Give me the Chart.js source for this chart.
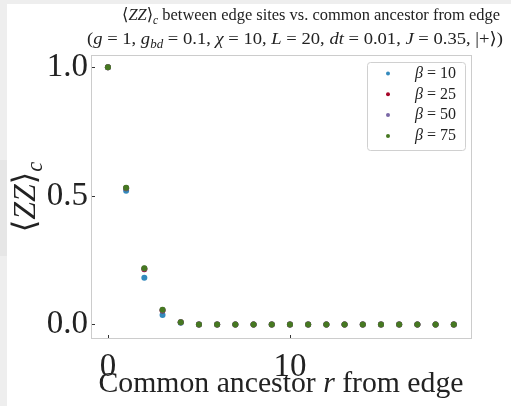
<html>
<head>
  <style>
    body { margin: 0; background: #eeeeee; }
    #side { position: absolute; left: 0; top: 160px; width: 7px; height: 96px; background: #e6e6e6; }
    #wrap { position: absolute; left: 0; top: 0; width: 511px; height: 406px; }
  </style>
</head>
<body>
  <div id="side"></div>
  <div id="wrap"><canvas id="zzChart" width="511" height="406"></canvas></div>

  <script src="https://cdn.jsdelivr.net/npm/chart.js"></script>
  <script>
    // common ancestor r from edge
    const rValues = [0, 1, 2, 3, 4, 5, 6, 7, 8, 9, 10, 11, 12, 13, 14, 15, 16, 17, 18, 19];
    const zzBeta10 = [1.0, 0.520, 0.181, 0.036, 0.006, 0, 0, 0, 0, 0, 0, 0, 0, 0, 0, 0, 0, 0, 0, 0];
    const zzBeta25 = [1.0, 0.530, 0.214, 0.054, 0.008, 0, 0, 0, 0, 0, 0, 0, 0, 0, 0, 0, 0, 0, 0, 0];
    const zzBeta50 = [1.0, 0.531, 0.217, 0.056, 0.008, 0, 0, 0, 0, 0, 0, 0, 0, 0, 0, 0, 0, 0, 0, 0];
    const zzBeta75 = [1.0, 0.532, 0.218, 0.057, 0.008, 0, 0, 0, 0, 0, 0, 0, 0, 0, 0, 0, 0, 0, 0, 0];
    const betaLabels = ['10', '25', '50', '75'];
    const colors = ['#348ABD', '#A60628', '#7A68A6', '#467821'];
    const xTicks = [0, 10];
    const yTicks = [0, 0.5, 1.0];

    const SERIF = "'Liberation Serif', 'DejaVu Serif', serif";

    // draw text made of pieces (italic / subscript); optional target width stretches it
    function drawRich(ctx, segs, x, y, size, align, width) {
      const font = (s, it) => (it ? 'italic ' : '') + s + 'px ' + SERIF;
      let total = 0;
      segs.forEach(s => {
        ctx.font = font(s.sub ? size * 0.7 : size, s.it);
        s.w = ctx.measureText(s.t).width;
        total += s.w;
      });
      const k = width ? width / total : 1;
      let cx = align === 'center' ? x - total * k / 2 : x;
      ctx.textBaseline = 'middle';
      ctx.textAlign = 'left';
      segs.forEach(s => {
        ctx.font = font(s.sub ? size * 0.7 : size, s.it);
        ctx.save();
        ctx.translate(cx, s.sub ? y + size * 0.3 : y);
        ctx.scale(k, 1);
        ctx.fillText(s.t, 0, 0);
        ctx.restore();
        cx += s.w * k;
      });
    }

    const pairs = (ys) => rValues.map((r, i) => ({ x: r, y: ys[i] }));

    const decor = {
      id: 'decor',
      beforeDraw(chart) {
        const ctx = chart.ctx;
        ctx.save();
        ctx.fillStyle = '#ffffff';
        ctx.fillRect(7, 4, 504, 402);
        ctx.restore();
      },
      afterDatasetsDraw(chart) {
        const ctx = chart.ctx;
        const a = chart.chartArea;
        const xs = chart.scales.x, ys = chart.scales.y;
        ctx.save();
        // frame
        ctx.strokeStyle = '#cccccc';
        ctx.lineWidth = 1;
        ctx.strokeRect(a.left + 0.5, a.top + 0.5, a.right - a.left - 1, a.bottom - a.top);
        // small inner ticks
        ctx.strokeStyle = '#333333';
        xTicks.forEach(v => {
          const px = Math.round(xs.getPixelForValue(v)) + 0.5;
          ctx.beginPath(); ctx.moveTo(px, a.bottom); ctx.lineTo(px, a.bottom - 3); ctx.stroke();
        });
        yTicks.forEach(v => {
          const py = Math.round(ys.getPixelForValue(v)) + 0.5;
          ctx.beginPath(); ctx.moveTo(a.left + 1, py); ctx.lineTo(a.left + 4, py); ctx.stroke();
        });

        ctx.fillStyle = '#222222';
        // title
        drawRich(ctx, [
          { t: '⟨' }, { t: 'ZZ', it: true }, { t: '⟩' }, { t: 'c', it: true, sub: true },
          { t: ' between edge sites vs. common ancestor from edge' }
        ], 311, 16, 17, 'center', 378);
        drawRich(ctx, [
          { t: '(' }, { t: 'g', it: true }, { t: ' = 1, ' }, { t: 'g', it: true }, { t: 'bd', it: true, sub: true },
          { t: ' = 0.1, ' }, { t: 'χ', it: true }, { t: ' = 10, ' }, { t: 'L', it: true }, { t: ' = 20, ' },
          { t: 'dt', it: true }, { t: ' = 0.01, ' }, { t: 'J', it: true }, { t: ' = 0.35, |+⟩)' }
        ], 295, 40, 17, 'center', 416);

        // x title
        drawRich(ctx, [
          { t: 'Common ancestor ' }, { t: 'r', it: true }, { t: ' from edge' }
        ], 281, 384, 30, 'center', 365);

        // y title, rotated
        ctx.save();
        ctx.translate(27, 197);
        ctx.rotate(-Math.PI / 2);
        drawRich(ctx, [
          { t: '⟨' }, { t: 'ZZ', it: true }, { t: '⟩' }, { t: 'c', it: true, sub: true }
        ], 0, 0, 32, 'center');
        ctx.restore();

        // legend
        const lx = 367, ly = 62, lw = 98, lh = 88;
        ctx.fillStyle = 'rgba(255,255,255,0.8)';
        ctx.strokeStyle = '#d0d0d0';
        ctx.beginPath();
        ctx.roundRect(lx + 0.5, ly + 0.5, lw, lh, 3);
        ctx.fill(); ctx.stroke();
        betaLabels.forEach((b, i) => {
          const yy = 73.5 + i * 20.8;
          ctx.fillStyle = colors[i];
          ctx.beginPath(); ctx.arc(388, yy, 2, 0, Math.PI * 2); ctx.fill();
          ctx.fillStyle = '#222222';
          drawRich(ctx, [{ t: 'β', it: true }, { t: ' = ' + b }], 415, yy, 16, 'left');
        });
        ctx.restore();
      }
    };

    const ctx = document.getElementById('zzChart').getContext('2d');
    new Chart(ctx, {
      type: 'scatter',
      data: {
        datasets: [
          { label: 'β = 10', data: pairs(zzBeta10), backgroundColor: colors[0], borderWidth: 0, pointRadius: 3, order: 3 },
          { label: 'β = 25', data: pairs(zzBeta25), backgroundColor: colors[1], borderWidth: 0, pointRadius: 3, order: 2 },
          { label: 'β = 50', data: pairs(zzBeta50), backgroundColor: colors[2], borderWidth: 0, pointRadius: 3, order: 1 },
          { label: 'β = 75', data: pairs(zzBeta75), backgroundColor: colors[3], borderWidth: 0, pointRadius: 3, order: 0 }
        ]
      },
      options: {
        responsive: false,
        animation: false,
        events: [],
        layout: { padding: { left: 0, right: 39, top: 55, bottom: 0 } },
        plugins: {
          legend: { display: false },
          title: { display: false },
          tooltip: { enabled: false }
        },
        scales: {
          x: {
            type: 'linear',
            min: -0.93,
            max: 20.0,
            afterBuildTicks: s => { s.ticks = xTicks.map(v => ({ value: v })); },
            afterFit: s => { s.height = 68; },
            grid: { display: false, drawTicks: false },
            border: { display: false },
            ticks: {
              padding: 10,
              color: '#222222',
              font: { family: SERIF, size: 33 },
              callback: v => String(v)
            }
          },
          y: {
            min: -0.053,
            max: 1.048,
            afterBuildTicks: s => { s.ticks = yTicks.map(v => ({ value: v })); },
            afterFit: s => { s.width = 91; },
            grid: { display: false, drawTicks: false },
            border: { display: false },
            ticks: {
              padding: 3,
              color: '#222222',
              font: { family: SERIF, size: 33 },
              callback: v => v.toFixed(1)
            }
          }
        }
      },
      plugins: [decor]
    });
  </script>
</body>
</html>
